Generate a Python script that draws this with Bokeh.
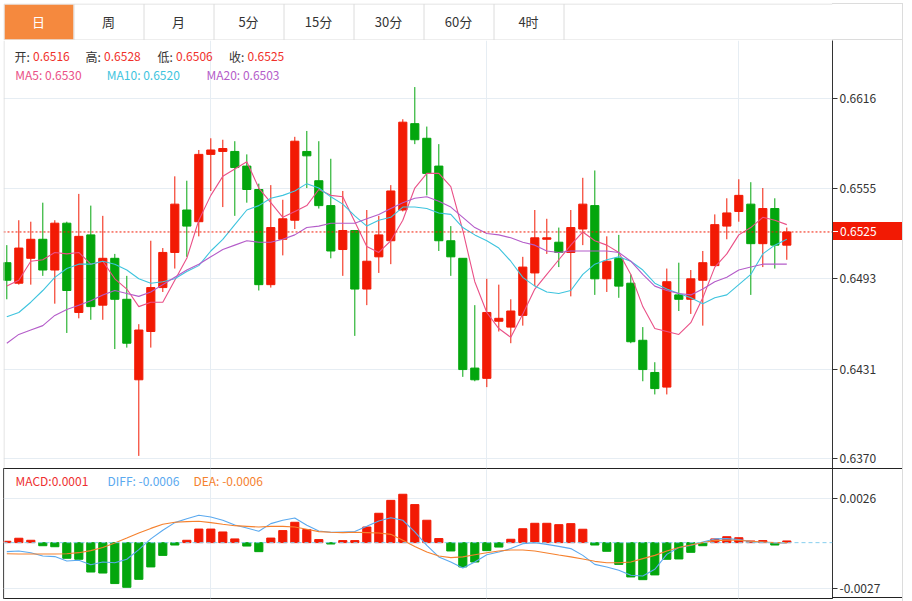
from bokeh.plotting import figure
from bokeh.layouts import column
from bokeh.models import (Range1d, FixedTicker, PrintfTickFormatter, Span, Label,
                          ColumnDataSource, Div)
from bokeh.embed import file_html
from bokeh.resources import INLINE
from bokeh.core.properties import value

# ---------------- data ----------------
tab_labels = ["日", "周", "月", "5分", "15分", "30分", "60分", "4时"]

opens = [0.6504, 0.6490, 0.6507, 0.6520, 0.6499, 0.6531, 0.6470, 0.6523, 0.6475, 0.6507,
         0.6479, 0.6424, 0.6457, 0.6487, 0.6511, 0.6540, 0.6532, 0.6578, 0.6580, 0.6580,
         0.6570, 0.6554, 0.6489, 0.6520, 0.6533, 0.6580, 0.6560, 0.6543, 0.6513, 0.6526,
         0.6486, 0.6508, 0.6519, 0.6540, 0.6599, 0.6589, 0.6570, 0.6519, 0.6507, 0.6432,
         0.6425, 0.6464, 0.6460, 0.6468, 0.6497, 0.6520, 0.6518, 0.6511, 0.6527, 0.6543,
         0.6493, 0.6507, 0.6490, 0.6451, 0.6429, 0.6419, 0.6482, 0.6479, 0.6492, 0.6502,
         0.6529, 0.6539, 0.6544, 0.6517, 0.6541, 0.6516]
highs = [0.6516, 0.6533, 0.6532, 0.6545, 0.6533, 0.6532, 0.6551, 0.6543, 0.6536, 0.6510,
         0.6495, 0.6462, 0.6519, 0.6514, 0.6563, 0.6560, 0.6581, 0.6589, 0.6588, 0.6587,
         0.6578, 0.6558, 0.6557, 0.6547, 0.6590, 0.6594, 0.6587, 0.6575, 0.6553, 0.6526,
         0.6540, 0.6536, 0.6557, 0.6602, 0.6624, 0.6597, 0.6585, 0.6529, 0.6507, 0.6475,
         0.6493, 0.6489, 0.6479, 0.6508, 0.6540, 0.6534, 0.6528, 0.6540, 0.6562, 0.6567,
         0.6522, 0.6523, 0.6496, 0.6460, 0.6436, 0.6500, 0.6504, 0.6499, 0.6512, 0.6537,
         0.6548, 0.6561, 0.6559, 0.6555, 0.6548, 0.6528]
lows = [0.6479, 0.6489, 0.6489, 0.6495, 0.6476, 0.6456, 0.6466, 0.6465, 0.6465, 0.6445,
        0.6446, 0.6372, 0.6446, 0.6484, 0.6500, 0.6508, 0.6522, 0.6553, 0.6542, 0.6536,
        0.6545, 0.6485, 0.6487, 0.6509, 0.6527, 0.6555, 0.6541, 0.6507, 0.6495, 0.6454,
        0.6475, 0.6497, 0.6503, 0.6539, 0.6585, 0.6550, 0.6512, 0.6495, 0.6426, 0.6423,
        0.6419, 0.6457, 0.6449, 0.6461, 0.6488, 0.6510, 0.6501, 0.6481, 0.6516, 0.6482,
        0.6484, 0.6480, 0.6449, 0.6423, 0.6414, 0.6414, 0.6471, 0.6469, 0.6461, 0.6502,
        0.6520, 0.6532, 0.6482, 0.6501, 0.6500, 0.6506]
closes = [0.6492, 0.6514, 0.6520, 0.6499, 0.6531, 0.6485, 0.6522, 0.6474, 0.6507, 0.6479,
          0.6449, 0.6458, 0.6487, 0.6511, 0.6544, 0.6529, 0.6578, 0.6581, 0.6582, 0.6569,
          0.6554, 0.6489, 0.6528, 0.6534, 0.6587, 0.6577, 0.6543, 0.6512, 0.6526, 0.6486,
          0.6505, 0.6523, 0.6553, 0.6600, 0.6588, 0.6565, 0.6519, 0.6508, 0.6431, 0.6424,
          0.6470, 0.6466, 0.6471, 0.6501, 0.6521, 0.6521, 0.6511, 0.6528, 0.6544, 0.6493,
          0.6505, 0.6488, 0.6450, 0.6431, 0.6418, 0.6491, 0.6479, 0.6493, 0.6504, 0.6530,
          0.6538, 0.6550, 0.6517, 0.6541, 0.6516, 0.6525]

ma5 = [0.6488, 0.6492, 0.6505, 0.6506, 0.6511, 0.6510, 0.6511, 0.6503, 0.6505, 0.6493,
       0.6486, 0.6474, 0.6477, 0.6477, 0.6492, 0.6507, 0.6533, 0.6550, 0.6563, 0.6568,
       0.6573, 0.6555, 0.6545, 0.6535, 0.6539, 0.6543, 0.6554, 0.6550, 0.6549, 0.6532,
       0.6515, 0.6511, 0.6519, 0.6533, 0.6555, 0.6565, 0.6565, 0.6556, 0.6526, 0.6491,
       0.6470, 0.6459, 0.6453, 0.6469, 0.6486, 0.6496, 0.6506, 0.6516, 0.6525, 0.6519,
       0.6516, 0.6511, 0.6496, 0.6474, 0.6459, 0.6457, 0.6455, 0.6463, 0.6480, 0.6501,
       0.6510, 0.6523, 0.6528, 0.6535, 0.6533, 0.6530]
ma10 = [0.6467, 0.6470, 0.6477, 0.6485, 0.6494, 0.6500, 0.6503, 0.6503, 0.6505, 0.6503,
        0.6499, 0.6493, 0.6490, 0.6491, 0.6493, 0.6498, 0.6502, 0.6512, 0.6520, 0.6530,
        0.6540, 0.6543, 0.6548, 0.6550, 0.6553, 0.6558, 0.6555, 0.6549, 0.6544, 0.6536,
        0.6529, 0.6533, 0.6535, 0.6542, 0.6542, 0.6541, 0.6538, 0.6537, 0.6528, 0.6523,
        0.6519, 0.6514, 0.6505, 0.6494, 0.6488, 0.6484, 0.6483, 0.6485, 0.6496, 0.6503,
        0.6506, 0.6508, 0.6505, 0.6499, 0.6490, 0.6486, 0.6483, 0.6480, 0.6476, 0.6480,
        0.6482, 0.6489, 0.6496, 0.6510, 0.6516, 0.6520]
ma20 = [0.6449, 0.6455, 0.6458, 0.6461, 0.6468, 0.6472, 0.6475, 0.6478, 0.6482, 0.6485,
        0.6483, 0.6481, 0.6484, 0.6489, 0.6494, 0.6499, 0.6503, 0.6508, 0.6513, 0.6516,
        0.6519, 0.6518, 0.6518, 0.6520, 0.6523, 0.6528, 0.6529, 0.6531, 0.6531, 0.6531,
        0.6534, 0.6537, 0.6541, 0.6545, 0.6548, 0.6549, 0.6546, 0.6542, 0.6535, 0.6528,
        0.6524, 0.6523, 0.6521, 0.6518, 0.6516, 0.6512, 0.6511, 0.6512, 0.6512, 0.6512,
        0.6512, 0.6511, 0.6505, 0.6496, 0.6488, 0.6485, 0.6483, 0.6482, 0.6486, 0.6491,
        0.6494, 0.6499, 0.6501, 0.6503, 0.6503, 0.6503]

macd_hist = [0.00008, 0.00026, 0.00014, -0.00018, -0.00024, -0.00092, -0.00098, -0.00173, -0.00179, -0.00241,
             -0.00263, -0.00216, -0.00143, -0.00075, -0.00014, 0.00014, 0.0008, 0.0008, 0.00063, 0.00022,
             -0.0002, -0.00053, 0.00027, 0.00071, 0.0012, 0.00077, 0.00018, -0.00008, 0.00012, 0.00012,
             0.00092, 0.00173, 0.00249, 0.00285, 0.00224, 0.00132, 0.00024, -0.00049, -0.00143, -0.00114,
             -0.00047, -0.00026, 0.0002, 0.00082, 0.00114, 0.00114, 0.00106, 0.00112, 0.00079, -0.00014,
             -0.00051, -0.00128, -0.00202, -0.00218, -0.0019, -0.00098, -0.00096, -0.00057, -0.00018, 0.00022,
             0.00035, 0.00029, 0.0001, 0.00012, -0.00014, 0.0001]
dif = [-0.00053, -0.00049, -0.00059, -0.00079, -0.00082, -0.00108, -0.00104, -0.0013, -0.00114, -0.00118,
       -0.00098, -0.00041, 0.00022, 0.00073, 0.00118, 0.00141, 0.00161, 0.00151, 0.00132, 0.00104,
       0.00086, 0.00067, 0.00112, 0.00132, 0.00145, 0.00102, 0.00069, 0.00061, 0.00063, 0.00065,
       0.00096, 0.00128, 0.00147, 0.00132, 0.00063, -0.00016, -0.00084, -0.00114, -0.00149, -0.00114,
       -0.00071, -0.00055, -0.00035, -0.00006, 0.0, -0.0001, -0.00022, -0.00035, -0.00075, -0.00128,
       -0.00143, -0.00163, -0.00192, -0.00196, -0.00157, -0.00069, -0.00029, -0.00016, 0.00004, 0.00022,
       0.00024, 0.00018, 0.00006, 0.00002, -0.00002, -0.00002]
dea = [-0.00065, -0.00067, -0.00067, -0.00067, -0.00067, -0.00065, -0.00059, -0.00047, -0.00029, -0.00002,
       0.00027, 0.00057, 0.00084, 0.00108, 0.0012, 0.00124, 0.00126, 0.00118, 0.00108, 0.001,
       0.00096, 0.00092, 0.00096, 0.00096, 0.00092, 0.00079, 0.00065, 0.00061, 0.00059, 0.00061,
       0.00059, 0.00057, 0.00049, 0.00014, -0.00022, -0.00055, -0.00079, -0.00088, -0.00084, -0.00071,
       -0.00059, -0.00049, -0.00043, -0.00043, -0.00049, -0.00061, -0.00073, -0.00084, -0.00096, -0.0011,
       -0.00118, -0.00118, -0.00114, -0.00094, -0.00075, -0.00049, -0.00029, -0.00014, 0.0, 0.00012,
       0.00014, 0.00014, 0.00008, 0.00004, 0.0, 0.0]

price_ticks = [0.6370, 0.6431, 0.6493, 0.6555, 0.6616]
macd_ticks = [-0.0027, 0.0026]
vgrid_idx = [17, 40, 61]

ohlc_names = ["开:", "高:", "低:", "收:"]
ma_names = ["MA5: ", "MA10: ", "MA20: "]
macd_legend = ["MACD:0.0001", "DIFF: -0.0006", "DEA: -0.0006"]

# ---------------- styles ----------------
FONT = "Noto Sans CJK SC"
RED = "#f21a04"
GREEN = "#03a60d"
MA_COLORS = ["#ea5087", "#3ec4de", "#b45cc9"]
MACD_COLORS = ["#ee3030", "#5aa9ef", "#f5812e"]
DIF_C = "#5aa9ef"
DEA_C = "#f5812e"
GRID_C = "#e6edf3"
BORDER_C = "#dcdcdc"
TAB_ACTIVE = "#f5893e"
TEXT_C = "#333333"
AXIS_C = "#333333"
DARK = "#222222"

W = 903                       # figure width (page x 0 .. 903)
FRAME_L, FRAME_R = 3, 832     # page x of the plot frames
LB = FRAME_L
RB = W - FRAME_R              # right border width (axis area)
FW = FRAME_R - FRAME_L        # frame width in px
XR = ((FRAME_L - 6.3) / 12.0, (FRAME_R - 6.3) / 12.0)
PR = (0.63634, 0.66558)            # price range (frame page y 40..468)
MR = (-0.003289, 0.004367)         # macd range (frame page y 468..598)


def xd(px):
    return (px - 6.3) / 12.0


def yd_p(py):
    return PR[1] - (py - 40) * (PR[1] - PR[0]) / 428.0


def py_p(v):
    return 40 + (PR[1] - v) * 428.0 / (PR[1] - PR[0])


def yd_m(py):
    return MR[1] - (py - 468) * (MR[1] - MR[0]) / 130.0


# ---------------- tab bar ----------------
n_tabs = len(tab_labels)
tf = figure(width=W, height=40, x_range=Range1d(0, FW), y_range=Range1d(0, 37),
            toolbar_location=None, output_backend="svg",
            min_border_left=LB, min_border_right=RB, min_border_top=3, min_border_bottom=0,
            x_axis_location=None, y_axis_location=None, outline_line_color=None)
tf.grid.visible = False
tab_w = 70
tf.quad(left=[1], right=[tab_w], bottom=[1], top=[36], fill_color=TAB_ACTIVE, line_color=None)
div_x = [tab_w * (k + 1) + 0.5 for k in range(n_tabs)]
tf.segment(x0=div_x, y0=[0.5] * n_tabs, x1=div_x, y1=[36.5] * n_tabs, line_color=BORDER_C, line_width=1)
tf.segment(x0=[0.5, 0.5, 0.5], y0=[36.5, 0.5, 0.5],
           x1=[FW, FW, 0.5], y1=[36.5, 0.5, 36.5],
           line_color=BORDER_C, line_width=1)
tf.text(x=[tab_w * k + tab_w / 2 for k in range(n_tabs)], y=[19] * n_tabs, text=tab_labels,
        text_align="center", text_baseline="middle", text_font=value(FONT), text_font_size="13px",
        text_color=["#ffffff"] + [TEXT_C] * (n_tabs - 1))

# ---------------- price panel ----------------
idx = list(range(len(opens)))
colors = [RED if c >= o else GREEN for o, c in zip(opens, closes)]
src = ColumnDataSource(dict(x=idx, o=opens, h=highs, l=lows, c=closes,
                            top=[max(o, c) for o, c in zip(opens, closes)],
                            bottom=[min(o, c) for o, c in zip(opens, closes)],
                            color=colors))

pf = figure(width=W, height=428, x_range=Range1d(*XR), y_range=Range1d(*PR),
            toolbar_location=None, output_backend="svg",
            min_border_left=LB, min_border_right=RB, min_border_top=0, min_border_bottom=0,
            x_axis_location=None, y_axis_location="right", outline_line_color=None)
pf.xgrid.ticker = FixedTicker(ticks=vgrid_idx)
pf.xgrid.grid_line_color = GRID_C
pf.ygrid.grid_line_color = GRID_C
ax = pf.yaxis[0]
ax.ticker = FixedTicker(ticks=price_ticks)
ax.formatter = PrintfTickFormatter(format="%.4f")


def style_axis(a):
    a.axis_line_color = AXIS_C
    a.major_tick_line_color = AXIS_C
    a.major_tick_out = 5
    a.major_tick_in = 0
    a.minor_tick_line_color = None
    a.major_label_standoff = 2
    a.major_label_text_font = FONT
    a.major_label_text_font_size = "12px"
    a.major_label_text_color = TEXT_C


style_axis(ax)

pf.segment(x0="x", y0="l", x1="x", y1="h", line_color="color", line_width=1, source=src)
pf.vbar(x="x", width=0.68, top="top", bottom="bottom", fill_color="color", line_color="color",
        line_width=1, source=src)
for ma, col in zip([ma5, ma10, ma20], MA_COLORS):
    pf.line(idx, ma, line_color=col, line_width=1.1)

pf.add_layout(Span(location=closes[-1], dimension="width", line_color=RED, line_dash="2 2", line_width=1))
pf.add_layout(Span(location=0.5, location_units="screen", dimension="height", line_color=BORDER_C, line_width=1))

ohlc_vals = [opens[-1], highs[-1], lows[-1], closes[-1]]
ohlc_px = [14, 85, 157, 228.5]
for name, v, px in zip(ohlc_names, ohlc_vals, ohlc_px):
    pf.add_layout(Label(x=xd(px), y=yd_p(56), text=name, text_color=TEXT_C, text_font=FONT,
                        text_font_size="12px", text_baseline="middle"))
    pf.add_layout(Label(x=xd(px + 18.6), y=yd_p(56), text="%.4f" % v, text_color="#f0302a",
                        text_font=FONT, text_font_size="12px", text_baseline="middle"))
ma_px = [14.8, 106.3, 206]
for name, ma, col, px in zip(ma_names, [ma5, ma10, ma20], MA_COLORS, ma_px):
    pf.add_layout(Label(x=xd(px), y=yd_p(73.5), text="%s%.4f" % (name, ma[-1]), text_color=col,
                        text_font=FONT, text_font_size="12px", text_baseline="middle"))

# ---------------- MACD panel ----------------
hcolors = [RED if v >= 0 else GREEN for v in macd_hist]
msrc = ColumnDataSource(dict(x=idx, v=macd_hist, color=hcolors))
mf = figure(width=W, height=133, x_range=pf.x_range, y_range=Range1d(*MR),
            toolbar_location=None, output_backend="svg",
            min_border_left=LB, min_border_right=RB, min_border_top=0, min_border_bottom=3,
            x_axis_location=None, y_axis_location="right", outline_line_color=DARK)
mf.xgrid.ticker = FixedTicker(ticks=vgrid_idx)
mf.xgrid.grid_line_color = GRID_C
mf.ygrid.grid_line_color = GRID_C
max_ = mf.yaxis[0]
max_.ticker = FixedTicker(ticks=macd_ticks)
max_.formatter = PrintfTickFormatter(format="%.4f")
style_axis(max_)

mf.add_layout(Span(location=0, dimension="width", line_color="#86cfee", line_dash="4 3", line_width=1))
mf.vbar(x="x", width=0.68, top="v", bottom=0, fill_color="color", line_color="color",
        line_width=1, source=msrc)
mf.line(idx, dif, line_color=DIF_C, line_width=1.1)
mf.line(idx, dea, line_color=DEA_C, line_width=1.1)
mf.add_layout(Span(location=0.5, location_units="screen", dimension="height", line_color=BORDER_C, line_width=1))

mleg_px = [15, 107, 193]
for txt, col, px in zip(macd_legend, MACD_COLORS, mleg_px):
    mf.add_layout(Label(x=xd(px), y=yd_m(479.5), text=txt, text_color=col, text_font=FONT,
                        text_font_size="12px", text_baseline="middle"))

# ---------------- overlay: last-price tag and borders over the axis area ----------------
tag_y = int(round(py_p(closes[-1]) - 9))


def box(left, top, w, h, color):
    return ('<div style="position:absolute;left:%dpx;top:%dpx;width:%dpx;height:%dpx;'
            'background:%s;"></div>' % (left, top, w, h, color))


overlay_html = "".join([
    box(FRAME_R, 3, 70, 1, BORDER_C),
    box(FRAME_R, 39, 70, 1, BORDER_C),
    box(902, 3, 1, 598, BORDER_C),
    box(FRAME_R, 468, 70, 1, DARK),
    box(FRAME_R, 597, 70, 1, DARK),
    box(833, tag_y, 69, 18, RED),
    box(833, tag_y + 9, 5, 1, "#ffffff"),
    '<span style="position:absolute;left:840px;top:%dpx;height:18px;line-height:18px;'
    'color:#ffffff;font-family:\'Noto Sans CJK SC\';font-size:12px;white-space:nowrap;">%.4f</span>'
    % (tag_y, closes[-1]),
])
overlay = Div(text=overlay_html, width=W, height=601, margin=0,
              styles={"position": "absolute", "left": "0px", "top": "0px", "pointer-events": "none"})

layout = column(tf, pf, mf, overlay)
open("out.html", "w").write(file_html(layout, INLINE))
